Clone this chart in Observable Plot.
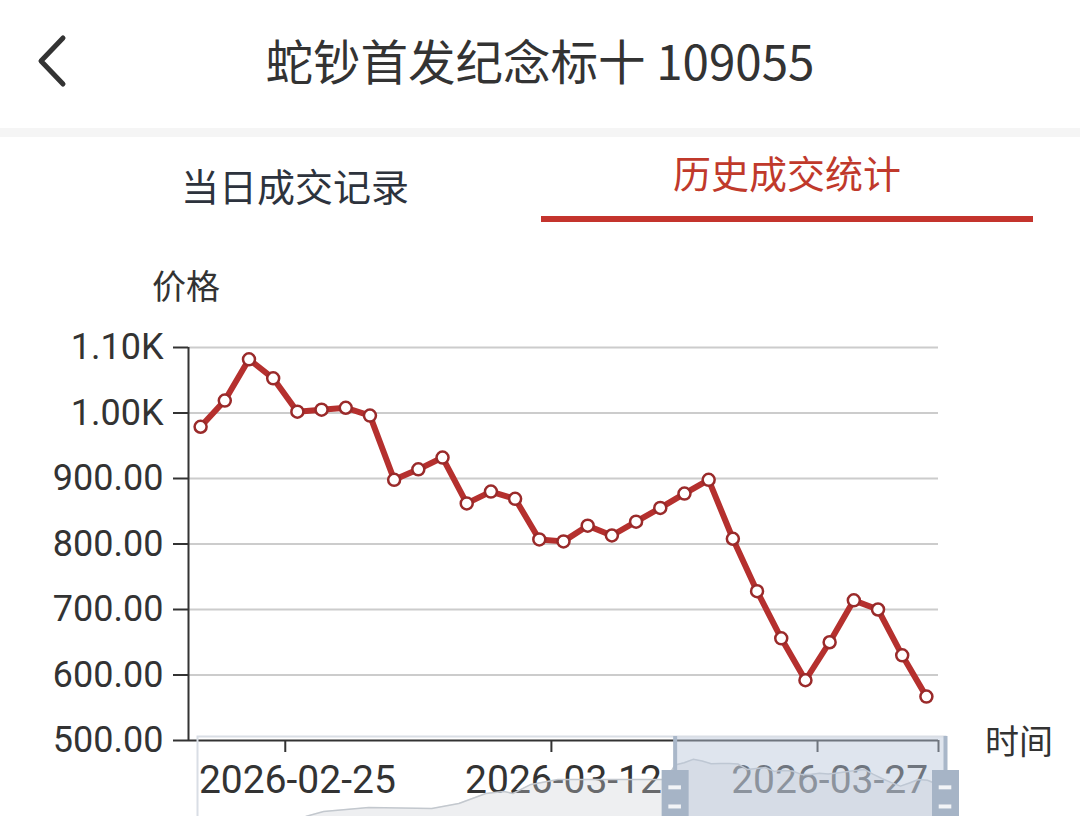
<!DOCTYPE html>
<html>
<head>
<meta charset="utf-8">
<script src="https://cdn.jsdelivr.net/npm/d3@7"></script>
<script src="https://cdn.jsdelivr.net/npm/@observablehq/plot@0.6"></script>
<style>
  html, body { margin: 0; padding: 0; background: #fff; }
  body { width: 1080px; height: 816px; overflow: hidden; position: relative; font-family: "Noto Sans CJK SC", "Noto Sans", sans-serif; }
  .abs { position: absolute; white-space: nowrap; }
  #title { top: 31px; left: 0; width: 1080px; text-align: center; font-size: 47.5px; line-height: 58px; color: #333; }
  #band { top: 128px; left: 0; width: 1080px; height: 9px; background: #f5f5f5; }
  .tab { font-size: 38px; line-height: 48px; width: 400px; text-align: center; }
  #tab1 { left: 95px; top: 161px; color: #2d333d; }
  #tab2 { left: 587px; top: 148px; color: #c0392b; }
  #underline { left: 541px; top: 216px; width: 492px; height: 6px; background: #c4342d; }
  .axlabel { font-size: 34px; line-height: 40px; color: #333; }
  #ylab { left: 152px; top: 265px; }
  #xlab { left: 985px; top: 720px; }
  #chart { position: absolute; left: 0; top: 250px; }
  #slider { position: absolute; left: 0; top: 736px; }
</style>
</head>
<body>
<svg class="abs" style="left:0;top:0" width="100" height="110">
  <polyline points="63,38 41,61 63,84" fill="none" stroke="#333" stroke-width="5" stroke-linecap="round" stroke-linejoin="round"/>
</svg>
<div id="title" class="abs">蛇钞首发纪念标十 109055</div>
<div id="band" class="abs"></div>
<div id="tab1" class="abs tab">当日成交记录</div>
<div id="tab2" class="abs tab">历史成交统计</div>
<div id="underline" class="abs"></div>
<div id="ylab" class="abs axlabel">价格</div>
<div id="xlab" class="abs axlabel">时间</div>
<div id="chart"></div>
<div id="slider"></div>
<script>
// ---- data ----
const dates = [
  "2026-02-19","2026-02-20","2026-02-23","2026-02-24","2026-02-25","2026-02-26","2026-02-27",
  "2026-03-02","2026-03-03","2026-03-04","2026-03-05","2026-03-06",
  "2026-03-09","2026-03-10","2026-03-11","2026-03-12","2026-03-13",
  "2026-03-16","2026-03-17","2026-03-18","2026-03-19","2026-03-20",
  "2026-03-23","2026-03-24","2026-03-25","2026-03-26","2026-03-27",
  "2026-03-30","2026-03-31","2026-04-01","2026-04-02"
];
const prices = [
  979, 1019, 1082, 1053, 1002, 1005, 1008, 996, 898, 914, 932,
  862, 880, 869, 807, 804, 828, 813, 834, 855, 877, 898,
  808, 728, 656, 592, 650, 714, 700, 630, 567
];
const yTicks = [500, 600, 700, 800, 900, 1000, 1100];
const labelIdx = [4, 15, 26];
const tickBounds = [3.5, 14.5, 25.5, 30.5];

// data-zoom slider: earlier history (estimated) + shown window
const shadowIdx = [0, 11, 12, 14, 19, 26, 29, 32, 34, 35, 37, 40, 46, 52];
const shadowVal = [0, 0, 37, 128, 200, 183, 275, 458, 495, 458, 623, 714, 714, 714];
const windowStart = 53;
const windowEnd = 83;

// ---- tables ----
const rows = prices.map((p, i) => ({i, date: dates[i], price: p}));
const shadow = shadowIdx.map((k, j) => ({k, v: shadowVal[j]}))
  .concat(prices.map((p, i) => ({k: windowStart + i, v: p})));

const fmtY = v => v >= 1000 ? (v / 1000).toFixed(2) + "K" : v.toFixed(2);
const lineColor = "#b5302e";

const chart = Plot.plot({
  width: 1080,
  height: 566,
  marginLeft: 188,
  marginRight: 142,
  marginTop: 97,
  marginBottom: 76,
  style: {fontFamily: "Roboto, 'Noto Sans', sans-serif", color: "#333", background: "transparent", overflow: "visible"},
  x: {type: "linear", domain: [-0.5, dates.length - 0.5]},
  y: {domain: [500, 1100]},
  marks: [
    Plot.ruleY(yTicks.filter(v => v > 500), {stroke: "#cccccc", strokeWidth: 2}),
    Plot.axisY({ticks: yTicks, tickFormat: fmtY, tickSize: 15, tickPadding: 10, fontSize: 36, strokeWidth: 2, label: null}),
    Plot.axisX({ticks: tickBounds, tickFormat: () => "", tickSize: 12, strokeWidth: 2, label: null}),
    Plot.axisX({ticks: labelIdx, tickFormat: i => dates[i], tickSize: 0, tickPadding: 25, fontSize: 39, label: null}),
    Plot.ruleX([-0.5], {stroke: "#333", strokeWidth: 2}),
    Plot.ruleY([500], {stroke: "#333", strokeWidth: 2}),
    Plot.line(rows, {x: "i", y: "price", stroke: lineColor, strokeWidth: 6, strokeLinejoin: "round"}),
    Plot.dot(rows, {x: "i", y: "price", r: 6, fill: "white", stroke: "#9a2a2a", strokeWidth: 2.5})
  ]
});
document.getElementById("chart").appendChild(chart);

const slider = Plot.plot({
  width: 1080,
  height: 82,
  marginLeft: 197,
  marginRight: 135,
  marginTop: 0,
  marginBottom: 0,
  style: {background: "transparent", overflow: "visible"},
  x: {domain: [0, 83], axis: null},
  y: {domain: [0, 1500], axis: null},
  marks: [
    Plot.areaY(shadow, {x: "k", y: "v", fill: "#cdd2d8", fillOpacity: 0.35}),
    Plot.lineY(shadow, {x: "k", y: "v", stroke: "#c3c8ce", strokeWidth: 1.5}),
    Plot.rect([{a: windowStart, b: windowEnd}], {x1: "a", x2: "b", fill: "#b7c6d9", fillOpacity: 0.45}),
    Plot.frame({stroke: "#d9dee5", strokeWidth: 2}),
    Plot.ruleX([windowStart, windowEnd], {stroke: "#a9b7c9", strokeWidth: 4}),
    Plot.ruleX([windowStart, windowEnd], {y1: 0, y2: 880, stroke: "#a6b4c6", strokeWidth: 27}),
    Plot.ruleY([windowStart, windowEnd].flatMap(k => [{k, v: 570}, {k, v: 220}]),
      {x1: d => d.k - 0.7, x2: d => d.k + 0.7, y: "v", stroke: "white", strokeWidth: 4, strokeOpacity: 0.85})
  ]
});
document.getElementById("slider").appendChild(slider);
</script>
</body>
</html>
